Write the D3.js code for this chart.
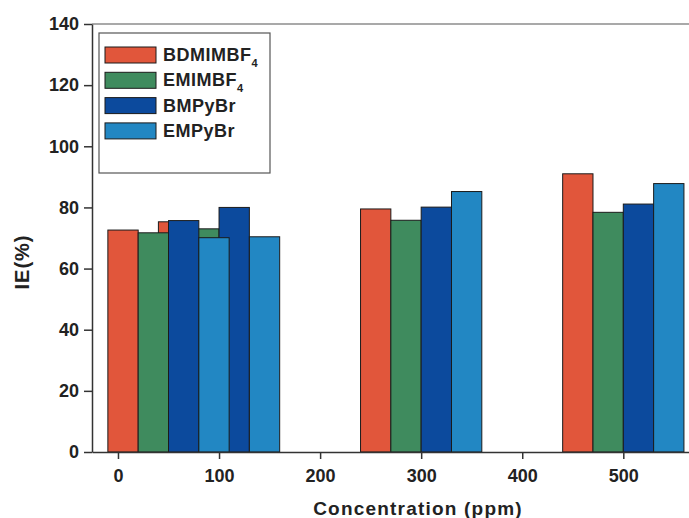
<!DOCTYPE html>
<html>
<head>
<meta charset="utf-8">
<script src="https://cdn.jsdelivr.net/npm/d3@7/dist/d3.min.js"></script>
<style>
  html, body { margin: 0; padding: 0; background: #fff; }
  text { font-family: "Liberation Sans", Arial, sans-serif; font-weight: bold; fill: #222; }
</style>
</head>
<body>
<svg id="chart" width="689" height="518"></svg>
<script>
// ---- data ----
const concentrations = [50, 100, 300, 500];
const seriesNames = ["BDMIMBF", "EMIMBF", "BMPyBr", "EMPyBr"];
const seriesSub = ["4", "4", "", ""];
const BDMIMBF4 = [72.6, 75.3, 79.5, 91.0];
const EMIMBF4 = [71.7, 73.0, 75.8, 78.4];
const BMPyBr = [75.7, 80.0, 80.1, 81.1];
const EMPyBr = [70.1, 70.4, 85.2, 87.8];
const xTicks = [0, 100, 200, 300, 400, 500];
const yTicks = [0, 20, 40, 60, 80, 100, 120, 140];
const colors = ["#E1563B", "#3F8B5E", "#0C4A9D", "#2287C3"];
const barWidthUnits = 30;
const drawOrder = [1, 0, 2, 3];

const series = [BDMIMBF4, EMIMBF4, BMPyBr, EMPyBr];

const svg = d3.select("#chart");
const x = d3.scaleLinear().domain([-25.7, 565]).range([92, 689]);
const y = d3.scaleLinear().domain([0, 140]).range([452, 24]);

// bars
const bars = [];
drawOrder.forEach(gi => {
  series.forEach((s, si) => {
    bars.push({c: concentrations[gi], v: s[gi], si});
  });
});
const offsets = [-45, -15, 15, 45];
svg.append("g").selectAll("rect").data(bars).join("rect")
  .attr("x", d => x(d.c + offsets[d.si] - barWidthUnits / 2))
  .attr("width", d => x(d.c + offsets[d.si] + barWidthUnits / 2) - x(d.c + offsets[d.si] - barWidthUnits / 2))
  .attr("y", d => y(d.v))
  .attr("height", d => y(0) - y(d.v))
  .attr("fill", d => colors[d.si])
  .attr("stroke", "#1b1b1b")
  .attr("stroke-width", 1);

// top frame line
svg.append("line").attr("x1", 92).attr("x2", 689).attr("y1", y(140)).attr("y2", y(140))
  .attr("stroke", "#555").attr("stroke-width", 1.2);

// axes
const xAxis = svg.append("g").attr("transform", `translate(0,${y(0)})`)
  .call(d3.axisBottom(x).tickValues(xTicks).tickSize(7).tickPadding(8).tickSizeOuter(0));
const yAxis = svg.append("g").attr("transform", `translate(${x(-25.7)},0)`)
  .call(d3.axisLeft(y).tickValues(yTicks).tickSize(8).tickPadding(5).tickSizeOuter(0));
[xAxis, yAxis].forEach(a => {
  a.select(".domain").attr("stroke", "#333").attr("stroke-width", 1.5);
  a.selectAll(".tick line").attr("stroke", "#333").attr("stroke-width", 1.5);
  a.selectAll(".tick text").style("font-family", '"Liberation Sans", Arial, sans-serif')
    .style("font-weight", "bold").style("font-size", "18px").attr("fill", "#222");
});
xAxis.selectAll(".tick text").attr("dy", "0.85em");

// axis titles
svg.append("text").attr("x", 418).attr("y", 515).attr("text-anchor", "middle")
  .style("font-size", "19px").style("letter-spacing", "1.2px").text("Concentration (ppm)");
svg.append("text").attr("transform", "translate(29,262) rotate(-90)").attr("text-anchor", "middle")
  .style("font-size", "20px").style("letter-spacing", "1px").text("IE(%)");

// legend
const lg = svg.append("g");
lg.append("rect").attr("x", 99).attr("y", 33).attr("width", 171).attr("height", 140)
  .attr("fill", "#fff").attr("stroke", "#555").attr("stroke-width", 1.2);
seriesNames.forEach((name, i) => {
  const yy = 47 + i * 25.3;
  lg.append("rect").attr("x", 105).attr("y", yy).attr("width", 51).attr("height", 16)
    .attr("fill", colors[i]).attr("stroke", "#1b1b1b").attr("stroke-width", 1);
  const t = lg.append("text").attr("x", 163).attr("y", yy + 14)
    .style("font-size", "18px").style("letter-spacing", "0.5px").text(name);
  if (seriesSub[i]) {
    t.append("tspan").attr("dy", 6).style("font-size", "11px").text(seriesSub[i]);
  }
});
</script>
</body>
</html>
